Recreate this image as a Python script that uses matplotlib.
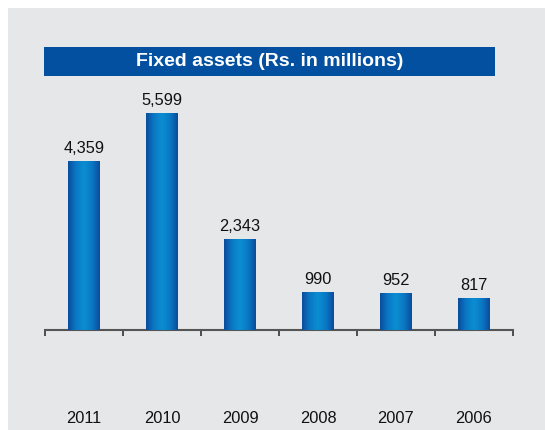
import matplotlib
matplotlib.use("Agg")
import matplotlib.pyplot as plt
import numpy as np
from matplotlib.patches import Rectangle
from matplotlib.colors import LinearSegmentedColormap

years = ["2011", "2010", "2009", "2008", "2007", "2006"]
values = [4359, 5599, 2343, 990, 952, 817]
value_labels = ["4,359", "5,599", "2,343", "990", "952", "817"]
title = "Fixed assets (Rs. in millions)"

plt.rcParams['font.family'] = ['Liberation Sans', 'DejaVu Sans']
W, H = 545, 430
fig = plt.figure(figsize=(W/100, H/100), dpi=100)
fig.patch.set_facecolor('white')
# gray panel
fig.patches.append(Rectangle((8/W, 0), 1, (H-8)/H, transform=fig.transFigure,
                             facecolor='#E6E7E9', edgecolor='none', zorder=-10))
# title band
fig.patches.append(Rectangle((44/W, (H-76)/H), (495-44)/W, 29/H, transform=fig.transFigure,
                             facecolor='#0450A0', edgecolor='none', zorder=-9))
fig.text((44+495)/2/W, (H-62)/H, title, color='white', fontsize=14, fontweight='bold',
         ha='center', va='center')

ax = fig.add_axes([45/W, (H-330)/H, 468/W, 250/H])
ax.set_zorder(5)
ax.set_facecolor('none')
x = np.arange(len(years))
bars = ax.bar(x, values, width=0.41, color='#0A6FBF', zorder=2)
ax.set_xlim(-0.5, len(years)-0.5)
ax.set_ylim(0, 250/0.03876)

cmap = LinearSegmentedColormap.from_list('cyl', ['#0B4C9C', '#0A78C4', '#0B8ED2', '#0A78C4', '#0B4C9C'])
grad = np.linspace(0, 1, 256).reshape(1, -1)
for b in bars:
    x0, w, h = b.get_x(), b.get_width(), b.get_height()
    im = ax.imshow(grad, cmap=cmap, aspect='auto', extent=(x0, x0+w, 0, h), zorder=3)
    im.set_clip_path(b)
ax.set_xlim(-0.5, len(years)-0.5)
ax.set_ylim(0, 250/0.03876)

for xi, v, lab in zip(x, values, value_labels):
    ax.annotate(lab, (xi, v), xytext=(0, 3.5), textcoords='offset points',
                ha='center', va='bottom', fontsize=11.8, color='#111111')

for s in ['top', 'right', 'left']:
    ax.spines[s].set_visible(False)
ax.spines['bottom'].set_color('#555555')
ax.spines['bottom'].set_linewidth(1.5)
ax.set_yticks([])
ax.set_xticks(np.arange(-0.5, len(years)), labels=[''] * (len(years)+1))
ax.tick_params(axis='x', which='major', direction='out', length=4, width=1.2, color='#333333')
ax.set_xticks(x, labels=years, minor=True)
ax.tick_params(axis='x', which='minor', length=0, pad=58, labelsize=11.8, labelcolor='#111111')

fig.savefig('out.png', dpi=100, facecolor=fig.get_facecolor())
